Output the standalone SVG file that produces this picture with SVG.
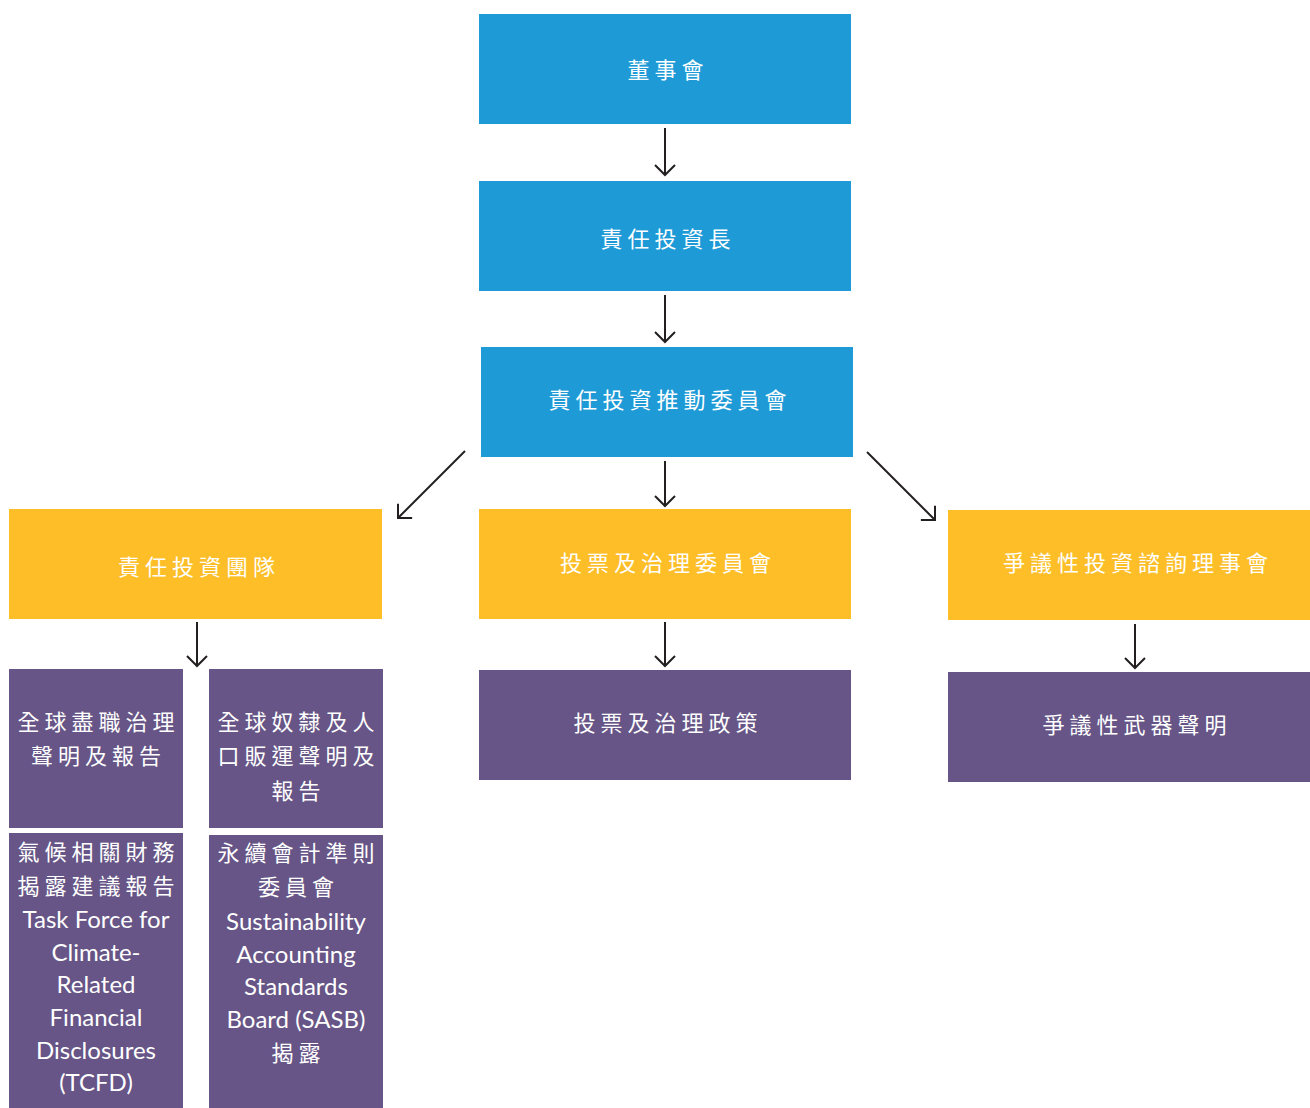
<svg xmlns="http://www.w3.org/2000/svg" width="1310" height="1108" viewBox="0 0 1310 1108">
<defs>
<marker id="ah" viewBox="0 0 14 22" refX="12" refY="11" markerWidth="14" markerHeight="22" markerUnits="userSpaceOnUse" orient="auto">
<path d="M2,1 L12,11 L2,21" fill="none" stroke="#231f20" stroke-width="2"/>
</marker>
<style>
.blue{fill:#1e9ad6}
.yel{fill:#fdbe28}
.pur{fill:#665586}
.zh{font-family:"Noto Sans CJK TC","Noto Sans CJK SC",sans-serif;font-size:22px;fill:#fff;text-anchor:middle;letter-spacing:5px}
.en{font-family:Lato,"Open Sans",sans-serif;font-size:24px;fill:#fff;text-anchor:middle}
.c{stroke:#231f20;stroke-width:2;fill:none;marker-end:url(#ah)}
</style>
</defs>
<rect width="1310" height="1108" fill="#fff"/>
<g id="connectors">
<line class="c" x1="665" y1="128" x2="665" y2="175"/>
<line class="c" x1="665" y1="295" x2="665" y2="342"/>
<line class="c" x1="665" y1="461" x2="665" y2="506"/>
<line class="c" x1="465" y1="451" x2="398" y2="518"/>
<line class="c" x1="867" y1="452" x2="935" y2="520"/>
<line class="c" x1="197" y1="622" x2="197" y2="666"/>
<line class="c" x1="665" y1="622" x2="665" y2="666"/>
<line class="c" x1="1135" y1="624" x2="1135" y2="668"/>
</g>
<g id="n1"><rect class="blue" x="479" y="14" width="372" height="110"/><text class="zh" x="668" y="78">董事會</text></g>
<g id="n2"><rect class="blue" x="479" y="181" width="372" height="110"/><text class="zh" x="668" y="247">責任投資長</text></g>
<g id="n3"><rect class="blue" x="481" y="347" width="372" height="110"/><text class="zh" x="670" y="408">責任投資推動委員會</text></g>
<g id="n4"><rect class="yel" x="9" y="509" width="373" height="110"/><text class="zh" x="199" y="575">責任投資團隊</text></g>
<g id="n5"><rect class="yel" x="479" y="509" width="372" height="110"/><text class="zh" x="668" y="571">投票及治理委員會</text></g>
<g id="n6"><rect class="yel" x="948" y="510" width="362" height="110"/><text class="zh" x="1138" y="571">爭議性投資諮詢理事會</text></g>
<g id="n7"><rect class="pur" x="9" y="669" width="174" height="159"/>
<text class="zh" x="98.5" y="730">全球盡職治理</text>
<text class="zh" x="98.5" y="764">聲明及報告</text></g>
<g id="n8"><rect class="pur" x="209" y="669" width="174" height="159"/>
<text class="zh" x="298.5" y="730">全球奴隸及人</text>
<text class="zh" x="298.5" y="764">口販運聲明及</text>
<text class="zh" x="298.5" y="799">報告</text></g>
<g id="n9"><rect class="pur" x="9" y="833" width="174" height="275"/>
<text class="zh" x="98.5" y="860">氣候相關財務</text>
<text class="zh" x="98.5" y="894">揭露建議報告</text>
<text class="en" x="96" y="928">Task Force for</text>
<text class="en" x="96" y="961">Climate-</text>
<text class="en" x="96" y="993">Related</text>
<text class="en" x="96" y="1026">Financial</text>
<text class="en" x="96" y="1059">Disclosures</text>
<text class="en" x="96" y="1091">(TCFD)</text></g>
<g id="n10"><rect class="pur" x="209" y="835" width="174" height="273"/>
<text class="zh" x="298.5" y="861">永續會計準則</text>
<text class="zh" x="298.5" y="895">委員會</text>
<text class="en" x="296" y="930">Sustainability</text>
<text class="en" x="296" y="963">Accounting</text>
<text class="en" x="296" y="995">Standards</text>
<text class="en" x="296" y="1028">Board (SASB)</text>
<text class="zh" x="298.5" y="1061">揭露</text></g>
<g id="n11"><rect class="pur" x="479" y="670" width="372" height="110"/><text class="zh" x="668" y="731">投票及治理政策</text></g>
<g id="n12"><rect class="pur" x="948" y="672" width="362" height="110"/><text class="zh" x="1137" y="733">爭議性武器聲明</text></g>
</svg>
